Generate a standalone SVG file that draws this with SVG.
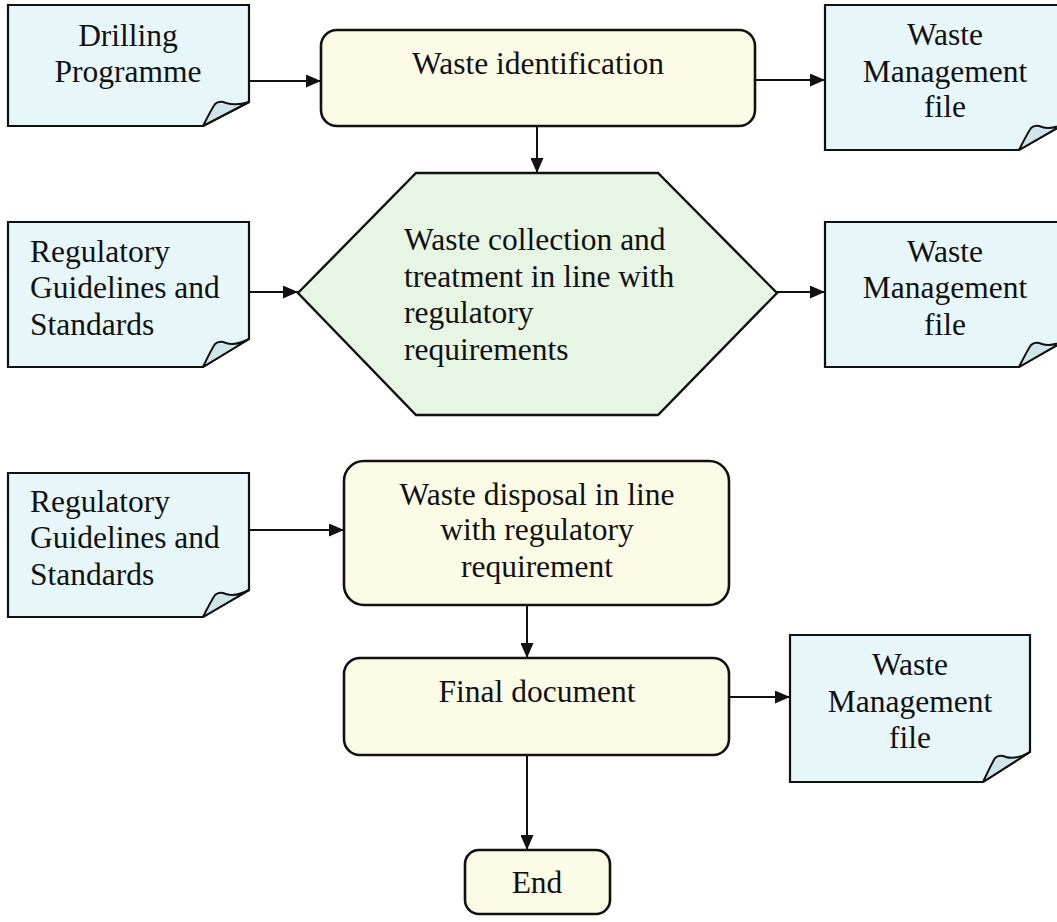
<svg xmlns="http://www.w3.org/2000/svg" width="1057" height="922" viewBox="0 0 1057 922">
  <defs>
    <style>
      .doc { fill: #e7f6f9; stroke: #111; stroke-width: 2.2; stroke-linejoin: miter; }
      .fold { fill: #cfe5ea; stroke: #111; stroke-width: 2; stroke-linejoin: round; }
      .box { fill: #fcfbe6; stroke: #111; stroke-width: 2.6; }
      .hex { fill: #e7f5e4; stroke: #111; stroke-width: 2.4; stroke-linejoin: miter; }
      .edge { fill: none; stroke: #111; stroke-width: 2; marker-end: url(#arrow); }
      .c { text-anchor: middle; }
    </style>
    <marker id="arrow" viewBox="0 0 15 13" refX="15" refY="6.5" markerWidth="15" markerHeight="13" markerUnits="userSpaceOnUse" orient="auto">
      <path d="M0,0 L15,6.5 L0,13 Z" fill="#111"/>
    </marker>
  </defs>

  <!-- connectors -->
  <g id="connectors">
    <line class="edge" x1="249" y1="81" x2="321" y2="81"/>
    <line class="edge" x1="755" y1="80" x2="825" y2="80"/>
    <line class="edge" x1="537" y1="126" x2="537" y2="173"/>
    <line class="edge" x1="249" y1="292" x2="298" y2="292"/>
    <line class="edge" x1="777" y1="292" x2="825" y2="292"/>
    <line class="edge" x1="249" y1="530" x2="344" y2="530"/>
    <line class="edge" x1="527" y1="605" x2="527" y2="658"/>
    <line class="edge" x1="729" y1="697" x2="790" y2="697"/>
    <line class="edge" x1="527" y1="755" x2="527" y2="850"/>
  </g>

  <g font-family="'Liberation Serif', 'Times New Roman', Times, serif" font-size="31.5" fill="#111">
  <!-- input document: Drilling Programme -->
  <g id="doc-drilling">
    <path class="doc" d="M8,5 H249 V102 L203,126 H8 Z"/>
    <path class="fold" d="M203,126 Q211,110 215,104 Q219,100 226,103 Q236,106 249,102 Z"/>
    <text class="c" x="128" y="46">Drilling</text>
    <text class="c" x="128" y="82">Programme</text>
  </g>

  <!-- process: Waste identification -->
  <g id="proc-identification">
    <rect class="box" x="321" y="30" width="434" height="96" rx="16"/>
    <text class="c" x="538" y="74">Waste identification</text>
  </g>

  <!-- output: Waste Management file (top) -->
  <g id="doc-wmf-1">
    <path class="doc" d="M825,5 H1066 V123 L1019,150 H825 Z"/>
    <path class="fold" d="M1019,150 Q1027,134 1031,128 Q1035,124 1042,127 Q1052,130 1066,123 Z"/>
    <text class="c" x="945" y="45">Waste</text>
    <text class="c" x="945" y="82">Management</text>
    <text class="c" x="945" y="117">file</text>
  </g>

  <!-- input document: Regulatory Guidelines (upper) -->
  <g id="doc-regulatory-1">
    <path class="doc" d="M8,222 H249 V339 L203,367 H8 Z"/>
    <path class="fold" d="M203,367 Q211,350 215,344 Q219,340 226,343 Q236,346 249,339 Z"/>
    <text x="30" y="262">Regulatory</text>
    <text x="30" y="298">Guidelines and</text>
    <text x="30" y="335">Standards</text>
  </g>

  <!-- process: Waste collection and treatment -->
  <g id="proc-collection">
    <polygon class="hex" points="416,173 658,173 777,293 658,415 416,415 298,293"/>
    <text x="404" y="250">Waste collection and</text>
    <text x="404" y="287">treatment in line with</text>
    <text x="404" y="323">regulatory</text>
    <text x="404" y="360">requirements</text>
  </g>

  <!-- output: Waste Management file (middle) -->
  <g id="doc-wmf-2">
    <path class="doc" d="M825,222 H1066 V340 L1019,367 H825 Z"/>
    <path class="fold" d="M1019,367 Q1027,351 1031,345 Q1035,341 1042,344 Q1052,347 1066,340 Z"/>
    <text class="c" x="945" y="262">Waste</text>
    <text class="c" x="945" y="298">Management</text>
    <text class="c" x="945" y="335">file</text>
  </g>

  <!-- input document: Regulatory Guidelines (lower) -->
  <g id="doc-regulatory-2">
    <path class="doc" d="M8,473 H249 V590 L203,617 H8 Z"/>
    <path class="fold" d="M203,617 Q211,601 215,595 Q219,591 226,594 Q236,597 249,590 Z"/>
    <text x="30" y="512">Regulatory</text>
    <text x="30" y="548">Guidelines and</text>
    <text x="30" y="585">Standards</text>
  </g>

  <!-- process: Waste disposal -->
  <g id="proc-disposal">
    <rect class="box" x="344" y="461" width="385" height="144" rx="20"/>
    <text class="c" x="537" y="505">Waste disposal in line</text>
    <text class="c" x="537" y="540">with regulatory</text>
    <text class="c" x="537" y="577">requirement</text>
  </g>

  <!-- process: Final document -->
  <g id="proc-final">
    <rect class="box" x="344" y="658" width="385" height="97" rx="16"/>
    <text class="c" x="537" y="702">Final document</text>
  </g>

  <!-- output: Waste Management file (bottom) -->
  <g id="doc-wmf-3">
    <path class="doc" d="M790,635 H1030 V752 L983,782 H790 Z"/>
    <path class="fold" d="M983,782 Q991,765 995,758 Q999,754 1006,757 Q1016,760 1030,752 Z"/>
    <text class="c" x="910" y="675">Waste</text>
    <text class="c" x="910" y="712">Management</text>
    <text class="c" x="910" y="748">file</text>
  </g>

  <!-- terminator: End -->
  <g id="term-end">
    <rect class="box" x="465" y="850" width="145" height="64" rx="14"/>
    <text class="c" x="537" y="893">End</text>
  </g>
  </g>
</svg>
